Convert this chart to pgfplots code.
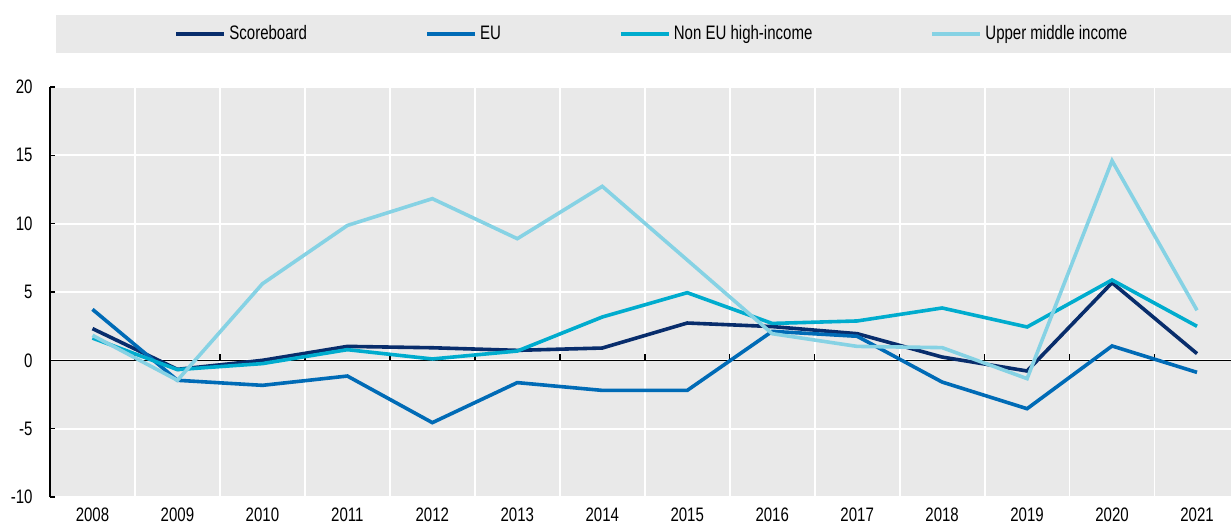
\documentclass[border=0pt]{standalone}
\usepackage{fontspec}
\setmainfont{Liberation Sans}[FakeStretch=0.77]
\usepackage{pgfplots}
\pgfplotsset{compat=1.18}
\definecolor{bgGray}{RGB}{233,233,233}
\definecolor{cScore}{RGB}{8,45,108}
\definecolor{cEU}{RGB}{0,107,182}
\definecolor{cNonEU}{RGB}{0,172,206}
\definecolor{cUpper}{RGB}{134,210,228}
\newcommand{\myfont}{\fontsize{9.75pt}{11.5pt}\selectfont}
\begin{document}
\myfont
\begin{tikzpicture}
\path[use as bounding box] (-25pt,-13pt) rectangle (590.5pt,248.5pt);
\fill[bgGray] (3pt,222pt) rectangle (590.5pt,241pt);
\begin{axis}[
  at={(0pt,0pt)}, anchor=south west,
  scale only axis, width=590.5pt, height=205pt,
  xmin=-0.5, xmax=13.4, ymin=-10, ymax=20,
  axis background/.style={fill=bgGray},
  axis x line*=bottom, axis y line*=left,
  x axis line style={draw=none},
  y axis line style={black, line width=0.75pt},
  xtick={0,1,2,3,4,5,6,7,8,9,10,11,12,13},
  xticklabels={2008,2009,2010,2011,2012,2013,2014,2015,2016,2017,2018,2019,2020,2021},
  minor xtick={0.5,1.5,2.5,3.5,4.5,5.5,6.5,7.5,8.5,9.5,10.5,11.5,12.5},
  xtick style={draw=none},
  minor x tick style={draw=none},
  xminorgrids=true, ymajorgrids=true,
  minor grid style={white, line width=0.9pt},
  major grid style={white, line width=0.9pt},
  ytick={-10,-5,0,5,10,15,20},
  ytick style={black, line width=0.75pt},
  tick align=inside, major tick length=2.5pt,
  /pgf/number format/assume math mode=true,
  tick label style={font=\myfont, text=black},
  yticklabel style={anchor=east, inner sep=0pt, xshift=-8.5pt},
  xticklabel style={anchor=north, inner sep=0pt, yshift=-5pt},
  legend columns=4,
  legend style={at={(0.105,1.129)}, anchor=west, draw=none, fill=none,
    font=\myfont, inner sep=0pt, nodes={inner sep=0pt},
    /tikz/every odd column/.append style={column sep=1.5pt},
    /tikz/every even column/.append style={column sep=59pt}},
  legend image code/.code={\draw[#1, line width=2pt] (0pt,0pt) -- (24pt,0pt);},
  every axis plot/.append style={line width=1.8pt, no marks, line join=miter},
]
\draw[black, line width=0.75pt] (axis cs:-0.5,0) -- (axis cs:13.4,0);
\pgfplotsinvokeforeach{0.5,1.5,2.5,3.5,4.5,5.5,6.5,7.5,8.5,9.5,10.5,11.5,12.5}{
  \draw[black, line width=0.75pt] (axis cs:#1,0) -- ++(0pt,3pt);
}
\addplot[cScore] coordinates {(0,2.32) (1,-0.66) (2,0.0) (3,1.02) (4,0.92) (5,0.73) (6,0.9) (7,2.73) (8,2.47) (9,1.95) (10,0.24) (11,-0.78) (12,5.68) (13,0.49)};
\addlegendentry{Scoreboard}
\addplot[cEU] coordinates {(0,3.73) (1,-1.46) (2,-1.83) (3,-1.15) (4,-4.56) (5,-1.63) (6,-2.2) (7,-2.2) (8,2.12) (9,1.76) (10,-1.59) (11,-3.54) (12,1.05) (13,-0.88)};
\addlegendentry{EU}
\addplot[cNonEU] coordinates {(0,1.63) (1,-0.68) (2,-0.24) (3,0.78) (4,0.1) (5,0.68) (6,3.17) (7,4.95) (8,2.7) (9,2.88) (10,3.83) (11,2.44) (12,5.88) (13,2.49)};
\addlegendentry{Non EU high-income}
\addplot[cUpper] coordinates {(0,1.83) (1,-1.46) (2,5.6) (3,9.87) (4,11.83) (5,8.9) (6,12.73) (7,7.34) (8,1.95) (9,1.02) (10,0.93) (11,-1.34) (12,14.6) (13,3.66)};
\addlegendentry{Upper middle income}
\end{axis}
\end{tikzpicture}
\end{document}
